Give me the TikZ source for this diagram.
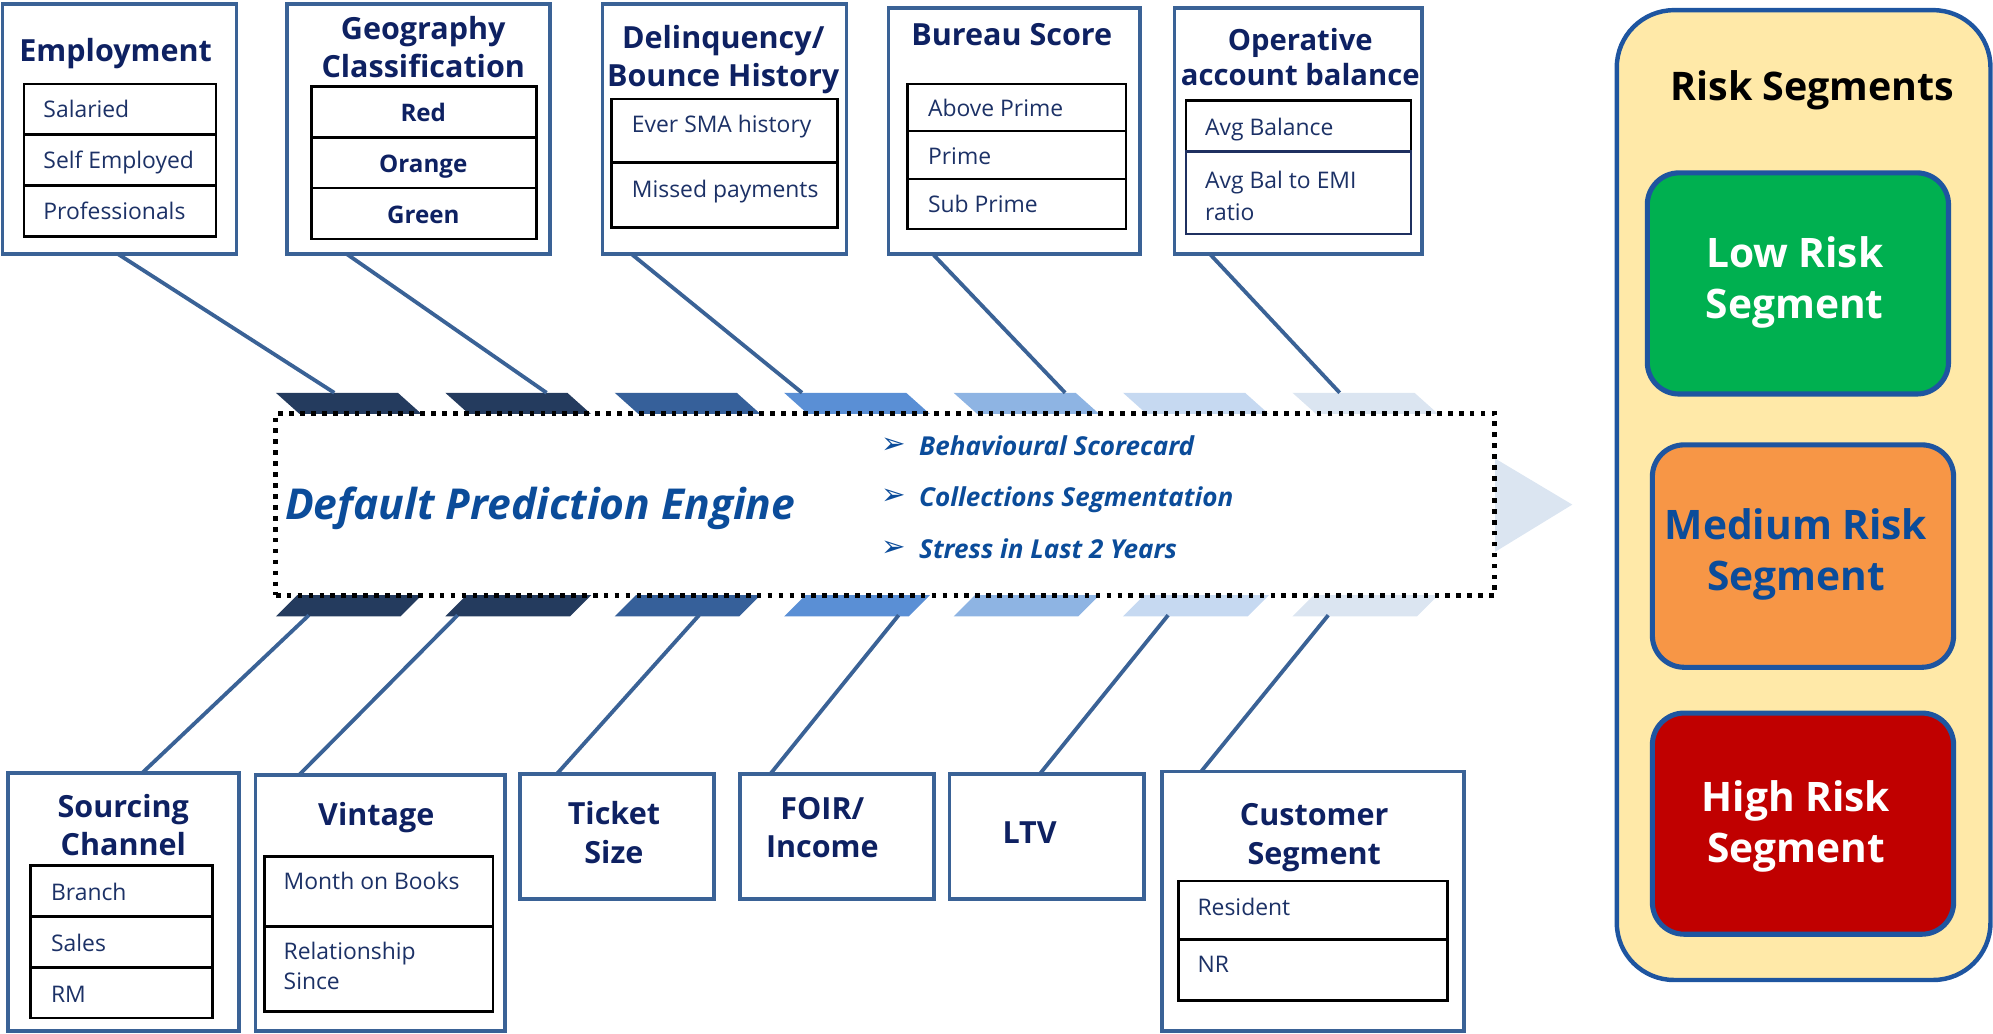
\documentclass[tikz,border=0pt]{standalone}
\usepackage{fontspec}
\setmainfont{Open Sans}
\newfontfamily\symfont{DejaVu Sans}
\usetikzlibrary{calc}
\definecolor{boxblue}{HTML}{3A6296}
\definecolor{navy}{HTML}{0E2162}
\definecolor{itemc}{HTML}{1C3166}
\definecolor{engblue}{HTML}{0B4C9A}
\definecolor{tabA}{HTML}{243B5E}
\definecolor{tabB}{HTML}{36609A}
\definecolor{tabC}{HTML}{5A8FD5}
\definecolor{tabD}{HTML}{8EB4E3}
\definecolor{tabE}{HTML}{C6D9F1}
\definecolor{tabF}{HTML}{DBE5F1}
\definecolor{panelfill}{HTML}{FFE9A8}
\definecolor{panelblue}{HTML}{1E55A0}
\definecolor{lowg}{HTML}{00B050}
\definecolor{medo}{HTML}{F79646}
\definecolor{highr}{HTML}{C00000}
\definecolor{cellnavy}{HTML}{1F3060}
\begin{document}
\begin{tikzpicture}[x=1pt,y=-1pt,
  box/.style={draw=boxblue, line width=3pt, fill=white, anchor=north west, inner sep=0pt, outer sep=0pt},
  cell/.style={draw=black, line width=2pt, anchor=north west, inner sep=0pt, outer sep=0pt},
  title/.style={font=\fontsize{24}{30}\selectfont\bfseries, text=navy, align=center, inner sep=0pt},
  onetitle/.style={font=\fontsize{24}{30}\selectfont\bfseries, text=navy, inner sep=0pt, text height=17.2pt, text depth=0pt},
  geoitem/.style={font=\fontsize{19}{24}\selectfont\bfseries, text=navy, inner sep=0pt, text height=13.6pt, text depth=0pt},
  item/.style={font=\fontsize{18}{24}\selectfont, text=itemc, anchor=west, inner sep=0pt, text height=12.9pt, text depth=0pt},
  item2/.style={font=\fontsize{18}{24}\selectfont, text=itemc, anchor=west, inner sep=0pt, align=left},
  conn/.style={draw=boxblue, line width=3pt},
  bullet/.style={font=\symfont\fontsize{23}{26}\selectfont, text=engblue, inner sep=0pt},
  bultext/.style={font=\fontsize{20.5}{24}\selectfont\bfseries\itshape, text=engblue, anchor=west, inner sep=0pt, text height=14.7pt, text depth=0pt},
  riskbox/.style={draw=panelblue, line width=4pt, rounded corners=25pt, anchor=north west, inner sep=0pt, outer sep=0pt, minimum width=237pt},
  risktext/.style={font=\fontsize{32}{40}\selectfont\bfseries, align=center, inner sep=0pt},
]
\useasboundingbox (0,0) rectangle (1568,813);

% ---------- central arrow & tabs ----------
\fill[tabF] (1170,357) -- (1237,397) -- (1170,438) -- cycle;
\foreach \i/\c in {0/tabA,1/tabA,2/tabB,3/tabC,4/tabD,5/tabE,6/tabF}{
  \pgfmathsetmacro\xa{217+133.3*\i}
  \fill[\c] (\xa,309) -- (\xa+96,309) -- (\xa+115,326) -- (\xa+19,326) -- cycle;
  \fill[\c] (\xa+17,468) -- (\xa+115,468) -- (\xa+98,485) -- (\xa,485) -- cycle;
}
\node[draw=black, line width=3.7pt, dash pattern=on 3.7pt off 4.9pt, fill=white,
      minimum width=959pt, minimum height=143pt, anchor=north west, inner sep=0pt, outer sep=0pt]
      (engine) at (217,325.5) {};
\node[font=\fontsize{33.5}{36}\selectfont\bfseries\itshape, text=engblue, inner sep=0pt, text height=24pt, text depth=0pt] (engtitle) at (425,397) {Default Prediction Engine};
\node[bullet] (b1) at (703,351) {➢};
\node[bullet] (b2) at (703,391) {➢};
\node[bullet] (b3) at (703,432) {➢};
\node[bultext] (bt1) at (723,351) {Behavioural Scorecard};
\node[bultext] (bt2) at (723,391) {Collections Segmentation};
\node[bultext] (bt3) at (723,432) {Stress in Last 2 Years};

% ---------- top boxes ----------
\node[box, minimum width=184pt, minimum height=197pt] (emp) at (2,3) {};
\node[onetitle] (empt) at (91,40) {Employment};
\node[cell, minimum width=151pt, minimum height=40pt] (emp1) at (19,66) {};
\node[cell, minimum width=151pt, minimum height=40pt] (emp2) at (19,106) {};
\node[cell, minimum width=151pt, minimum height=40pt] (emp3) at (19,146) {};
\node[item] at (34,86) {Salaried};
\node[item] at (34,126) {Self Employed};
\node[item] at (34,166) {Professionals};

\node[box, minimum width=207pt, minimum height=197pt] (geo) at (226,3) {};
\node[title] (geot) at (333,37) {Geography\\Classification};
\node[cell, minimum width=177pt, minimum height=40pt] (geo1) at (245,68) {};
\node[cell, minimum width=177pt, minimum height=40pt] (geo2) at (245,108) {};
\node[cell, minimum width=177pt, minimum height=40pt] (geo3) at (245,148) {};
\node[geoitem] at (333,89) {Red};
\node[geoitem] at (333,129) {Orange};
\node[geoitem] at (333,169) {Green};

\node[box, minimum width=192pt, minimum height=197pt] (del) at (474,3) {};
\node[title] (delt) at (569,47) {Delinquency/\\Bounce History};
\node[cell, minimum width=178pt, minimum height=50pt] (del1) at (481,78) {};
\node[cell, minimum width=178pt, minimum height=51pt] (del2) at (481,128) {};
\node[item] at (497,98) {Ever SMA history};
\node[item] at (497,149) {Missed payments};

\node[box, minimum width=198pt, minimum height=194pt] (bur) at (699,6) {};
\node[onetitle] (burt) at (796,27) {Bureau Score};
\node[cell, minimum width=172pt, minimum height=37pt] (bur1) at (714,66) {};
\node[cell, minimum width=172pt, minimum height=38pt] (bur2) at (714,103) {};
\node[cell, minimum width=172pt, minimum height=39pt] (bur3) at (714,141) {};
\node[item] at (730,85) {Above Prime};
\node[item] at (730,123) {Prime};
\node[item] at (730,161) {Sub Prime};

\node[box, minimum width=195pt, minimum height=194pt] (ope) at (924,6) {};
\node[title, font=\fontsize{23}{27}\selectfont\bfseries] (opet) at (1023,45) {Operative\\account balance};
\node[cell, minimum width=177pt, minimum height=40pt] (ope1) at (933,79) {};
\node[cell, draw=cellnavy, minimum width=177pt, minimum height=65pt] (ope2) at (933,119) {};
\node[item] at (948,100) {Avg Balance};
\node[item2, font=\fontsize{18}{25}\selectfont] at (948,154) {Avg Bal to EMI\\ratio};

% ---------- bottom boxes ----------
\node[box, minimum width=182pt, minimum height=203pt] (src) at (6,608) {};
\node[title] (srct) at (97,649) {Sourcing\\Channel};
\node[cell, minimum width=143pt, minimum height=40pt] (src1) at (24,681) {};
\node[cell, minimum width=143pt, minimum height=40pt] (src2) at (24,721) {};
\node[cell, minimum width=143pt, minimum height=40pt] (src3) at (24,761) {};
\node[item] at (40,702) {Branch};
\node[item] at (40,742) {Sales};
\node[item] at (40,782) {RM};

\node[box, minimum width=196pt, minimum height=201pt] (vin) at (201,610) {};
\node[onetitle] (vint) at (296,641) {Vintage};
\node[cell, minimum width=180pt, minimum height=55pt] (vin1) at (208,674) {};
\node[cell, minimum width=180pt, minimum height=67pt] (vin2) at (208,729) {};
\node[item] at (223,693) {Month on Books};
\node[item2, font=\fontsize{18}{23}\selectfont] at (223,760) {Relationship\\Since};

\node[box, minimum width=153pt, minimum height=98pt] (tik) at (409,609) {};
\node[title] (tikt) at (483,655) {Ticket\\Size};

\node[box, minimum width=153pt, minimum height=98pt] (foi) at (582,609) {};
\node[title] (foit) at (647,651) {FOIR/\\Income};

\node[box, minimum width=153pt, minimum height=98pt] (ltv) at (747,609) {};
\node[onetitle] (ltvt) at (810,655) {LTV};

\node[box, minimum width=238pt, minimum height=204pt] (cus) at (914,607) {};
\node[title] (cust) at (1034,659) {Customer\\Segment};
\node[cell, minimum width=212pt, minimum height=46pt] (cus1) at (927,693) {};
\node[cell, minimum width=212pt, minimum height=48pt] (cus2) at (927,739) {};
\node[item] at (942,714) {Resident};
\node[item] at (942,759) {NR};

% ---------- connectors ----------
\coordinate (tt1) at (263,309);
\coordinate (tt2) at (430,309);
\coordinate (tt3) at (631,309);
\coordinate (tt4) at (838,309);
\coordinate (tt5) at (1054,309);
\draw[conn] ($(emp.south west)+(91,0)$) -- (tt1);
\draw[conn] ($(geo.south west)+(47,0)$) -- (tt2);
\draw[conn] ($(del.south west)+(23,0)$) -- (tt3);
\draw[conn] ($(bur.south west)+(35,0)$) -- (tt4);
\draw[conn] ($(ope.south west)+(28,0)$) -- (tt5);

\coordinate (bt1c) at (243,484);
\coordinate (bt2c) at (360,484);
\coordinate (bt3c) at (550,484);
\coordinate (bt4c) at (707,484);
\coordinate (bt6c) at (919,484);
\coordinate (bt7c) at (1045,484);
\draw[conn] (bt1c) -- ($(src.north west)+(106,0)$);
\draw[conn] (bt2c) -- ($(vin.north west)+(34,0)$);
\draw[conn] (bt3c) -- ($(tik.north west)+(29,0)$);
\draw[conn] (bt4c) -- ($(foi.north west)+(24,0)$);
\draw[conn] (bt6c) -- ($(ltv.north west)+(71,0)$);
\draw[conn] (bt7c) -- ($(cus.north west)+(31,0)$);

% ---------- risk panel ----------
\node[draw=panelblue, line width=3.5pt, fill=panelfill, rounded corners=45pt,
      minimum width=294pt, minimum height=763pt, anchor=north west, inner sep=0pt, outer sep=0pt]
      (panel) at (1272,8) {};
\node[font=\fontsize{31}{34}\selectfont\bfseries, text=black, inner sep=0pt, text height=22.2pt, text depth=0pt] (panelt) at (1426,68) {Risk Segments};
\node[riskbox, fill=lowg, minimum height=174pt] (low) at (1296,136) {};
\node[risktext, text=white] at (1412,222) {Low Risk\\Segment};
\node[riskbox, fill=medo, minimum height=175pt] (med) at (1300,350) {};
\node[risktext, text=engblue] at (1413,436) {Medium Risk\\Segment};
\node[riskbox, fill=highr, minimum height=174pt] (high) at (1300,561) {};
\node[risktext, text=white] at (1413,650) {High Risk\\Segment};
\end{tikzpicture}
\end{document}
